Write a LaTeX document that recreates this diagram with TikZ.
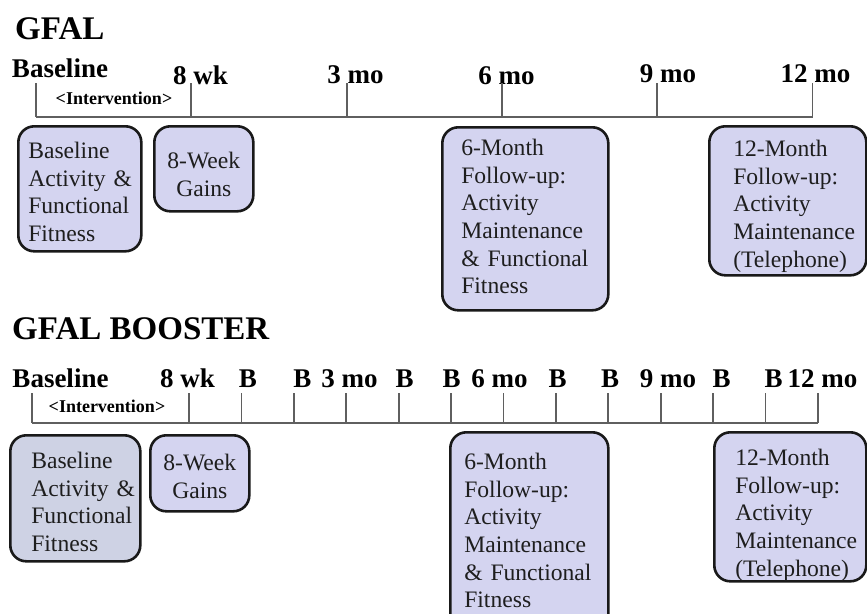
\documentclass[tikz,border=0pt]{standalone}
\usepackage{fontspec}
\setmainfont{Liberation Serif}

\definecolor{boxfill}{RGB}{212,212,240}
\definecolor{basefill}{RGB}{206,210,228}
\definecolor{axisgray}{RGB}{95,95,95}
\definecolor{boxtext}{RGB}{30,30,30}

\begin{document}
\begin{tikzpicture}[x=1pt,y=-1pt,
    timeline/.style={draw=axisgray,line width=1.8pt},
    heading/.style={font=\bfseries\fontsize{33}{36}\selectfont,anchor=base west,inner sep=0pt},
    timelabel/.style={font=\bfseries\fontsize{27}{30}\selectfont,anchor=base,inner sep=0pt},
    interv/.style={font=\bfseries\fontsize{18}{20}\selectfont,anchor=base,inner sep=0pt},
    stage/.style={draw=black!90,line width=2.6pt,rounded corners=16pt,fill=boxfill,text=boxtext,
        font=\fontsize{23.6}{27.7}\selectfont,align=left,anchor=north west,inner xsep=4pt,inner ysep=0pt},
    inset/.style={execute at begin node={\leftskip=#1}}
  ]
    \useasboundingbox (0,0) rectangle (867,613);
    \clip (0,0) rectangle (867,613);

    % GFAL
    \node[heading] (gfal) at (15,39) {GFAL};

    % Timeline with its six points
    \coordinate (gfal start) at (36,117);
    \coordinate (gfal end) at (812.5,117);
    \draw[timeline] (gfal start) -- (gfal end);
    \foreach \k/\lab/\lx/\ly in {0/Baseline/60/77, 1/8 wk/200.5/84, 2/3 mo/355.5/83,
                                 3/6 mo/506.5/84, 4/9 mo/668/82, 5/12 mo/815.5/82} {
        \node[timelabel] (ga\k) at (\lx,\ly) {\lab};
        \coordinate (gt\k) at ({36+155.3*\k},83);
        \draw[timeline] (gt\k) -- (gt\k |- gfal start);
    }
    \node[interv] (int1) at (114,104) {<Intervention>};

    % Assessments
    \node[stage,text width=115pt,inset=6pt,text height=32pt,text depth=93pt] (base1) at (17,125)
        {Baseline\\Activity~\&\\Functional\\Fitness};
    \node[stage,align=center,text width=91pt,text height=42pt,text depth=43pt] (wk1) at (153,125)
        {8-Week\\Gains};
    \node[stage,text width=158pt,inset=15pt,text height=28pt,text depth=155pt] (six1) at (441,126)
        {6-Month\\Follow-up:\\Activity\\Maintenance\\\&~Functional\\Fitness};
    \node[stage,text width=149pt,inset=20pt,text height=30pt,text depth=119pt] (twelve1) at (708,125)
        {12-Month\\Follow-up:\\Activity\\Maintenance\\(Telephone)};

    % GFAL BOOSTER
    \node[heading] (booster) at (12,339) {GFAL BOOSTER};

    % Timeline with booster sessions
    \coordinate (boost start) at (32,423);
    \coordinate (boost end) at (817.8,423);
    \draw[timeline] (boost start) -- (boost end);
    \node[timelabel] (bbase) at (60.5,387) {Baseline};
    \coordinate (btbase) at (32,393);
    \draw[timeline] (btbase) -- (btbase |- boost start);
    \foreach \k/\lab/\lx in {0/8 wk/187.5, 1/B/248, 2/B/302.5, 3/3 mo/349.5, 4/B/404.5,
                             5/B/451.5, 6/6 mo/499.5, 7/B/557.5, 8/B/610, 9/9 mo/668,
                             10/B/721.5, 11/B/773.5, 12/12 mo/822.5} {
        \node[timelabel] (bl\k) at (\lx,387) {\lab};
        \coordinate (bt\k) at ({189+52.4*\k},393);
        \draw[timeline] (bt\k) -- (bt\k |- boost start);
    }
    \node[interv] (int2) at (107,412) {<Intervention>};

    % Assessments
    \node[stage,fill=basefill,text width=122pt,inset=17pt,text height=33pt,text depth=93pt] (base2) at (9,434)
        {Baseline\\Activity~\&\\Functional\\Fitness};
    \node[stage,align=center,text width=91pt,text height=35pt,text depth=41pt] (wk2) at (149,434)
        {8-Week\\Gains};
    \node[stage,text width=150pt,inset=10pt,text height=37pt,text depth=164pt] (six2) at (449,431)
        {6-Month\\Follow-up:\\Activity\\Maintenance\\\&~Functional\\Fitness};
    \node[stage,text width=144pt,inset=17pt,text height=33pt,text depth=116pt] (twelve2) at (713,431)
        {12-Month\\Follow-up:\\Activity\\Maintenance\\(Telephone)};
\end{tikzpicture}
\end{document}
